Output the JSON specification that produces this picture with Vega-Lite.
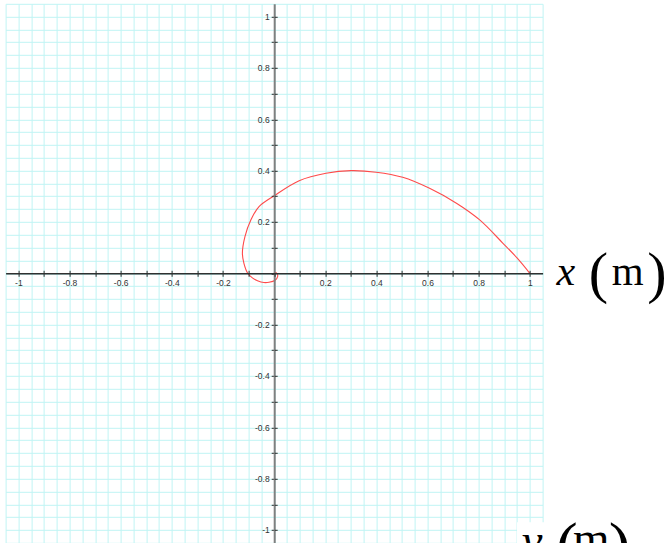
{
  "$schema": "https://vega.github.io/schema/vega-lite/v6.json",
  "width": 537,
  "height": 539,
  "autosize": {"type": "none"},
  "padding": {"left": 5.6, "top": 3.8, "right": 127.4, "bottom": 0.2},
  "background": "white",
  "config": {"view": {"stroke": null}},
  "data": {
    "values": [
      {"t": 1, "x": 1.0, "y": 0.0},
      {"t": 2, "x": 0.95, "y": 0.06},
      {"t": 3, "x": 0.895, "y": 0.117},
      {"t": 4, "x": 0.804, "y": 0.208},
      {"t": 5, "x": 0.713, "y": 0.273},
      {"t": 6, "x": 0.608, "y": 0.331},
      {"t": 7, "x": 0.503, "y": 0.374},
      {"t": 8, "x": 0.399, "y": 0.394},
      {"t": 9, "x": 0.301, "y": 0.4},
      {"t": 10, "x": 0.203, "y": 0.39},
      {"t": 11, "x": 0.098, "y": 0.361},
      {"t": 12, "x": 0.0, "y": 0.302},
      {"t": 13, "x": -0.059, "y": 0.26},
      {"t": 14, "x": -0.091, "y": 0.208},
      {"t": 15, "x": -0.114, "y": 0.143},
      {"t": 16, "x": -0.124, "y": 0.078},
      {"t": 17, "x": -0.118, "y": 0.039},
      {"t": 18, "x": -0.103, "y": 0.0},
      {"t": 19, "x": -0.085, "y": -0.018},
      {"t": 20, "x": -0.065, "y": -0.029},
      {"t": 21, "x": -0.04, "y": -0.036},
      {"t": 22, "x": -0.02, "y": -0.035},
      {"t": 23, "x": 0.004, "y": -0.027},
      {"t": 24, "x": 0.014, "y": -0.012},
      {"t": 25, "x": 0.012, "y": -0.002},
      {"t": 26, "x": 0.004, "y": 0.004},
      {"t": 27, "x": 0.0, "y": 0.0}
    ]
  },
  "resolve": {"axis": {"x": "independent", "y": "independent"}},
  "layer": [
    {
      "mark": {"type": "point", "opacity": 0},
      "encoding": {
        "x": {
          "field": "x", "type": "quantitative",
          "scale": {"domain": [-1.05, 1.05], "nice": false, "zero": false},
          "axis": {
            "orient": "top", "title": null, "labels": false, "ticks": false, "domain": false,
            "grid": true, "gridColor": "#c0f4f4", "gridWidth": 1, "zindex": 0,
            "values": [-1.05,-1,-0.95,-0.9,-0.85,-0.8,-0.75,-0.7,-0.65,-0.6,-0.55,-0.5,-0.45,-0.4,-0.35,-0.3,-0.25,-0.2,-0.15,-0.1,-0.05,0,0.05,0.1,0.15,0.2,0.25,0.3,0.35,0.4,0.45,0.5,0.55,0.6,0.65,0.7,0.75,0.8,0.85,0.9,0.95,1,1.05]
          }
        },
        "y": {
          "field": "y", "type": "quantitative",
          "scale": {"domain": [-1.05, 1.05], "nice": false, "zero": false},
          "axis": {
            "orient": "right", "title": null, "labels": false, "ticks": false, "domain": false,
            "grid": true, "gridColor": "#c0f4f4", "gridWidth": 1, "zindex": 0,
            "values": [-1.05,-1,-0.95,-0.9,-0.85,-0.8,-0.75,-0.7,-0.65,-0.6,-0.55,-0.5,-0.45,-0.4,-0.35,-0.3,-0.25,-0.2,-0.15,-0.1,-0.05,0,0.05,0.1,0.15,0.2,0.25,0.3,0.35,0.4,0.45,0.5,0.55,0.6,0.65,0.7,0.75,0.8,0.85,0.9,0.95,1,1.05]
          }
        }
      }
    },
    {
      "mark": {"type": "line", "color": "#ff4a4a", "strokeWidth": 1.1, "interpolate": "catmull-rom"},
      "encoding": {
        "x": {
          "field": "x", "type": "quantitative",
          "scale": {"domain": [-1.05, 1.05], "nice": false, "zero": false},
          "axis": {
            "orient": "bottom", "offset": -269.5, "title": null, "grid": false,
            "domainColor": "#303030", "domainWidth": 1.5,
            "tickColor": "#303030", "tickSize": 3, "tickWidth": 1,
            "labelFont": "Liberation Sans", "labelFontSize": 8.5, "labelColor": "#333333", "labelPadding": 2,
            "labelExpr": "datum.value != 0 && abs(round(datum.value * 10)) % 2 == 0 ? '' + datum.value : ''",
            "zindex": 2,
            "values": [-1,-0.9,-0.8,-0.7,-0.6,-0.5,-0.4,-0.3,-0.2,-0.1,0,0.1,0.2,0.3,0.4,0.5,0.6,0.7,0.8,0.9,1]
          }
        },
        "y": {
          "field": "y", "type": "quantitative",
          "scale": {"domain": [-1.05, 1.05], "nice": false, "zero": false},
          "axis": {
            "orient": "left", "offset": -268.6, "title": null, "grid": false,
            "domainColor": "#808080", "domainWidth": 2,
            "tickColor": "#303030", "tickSize": 3, "tickWidth": 1,
            "labelFont": "Liberation Sans", "labelFontSize": 8.5, "labelColor": "#333333", "labelPadding": 2,
            "labelExpr": "datum.value != 0 && abs(round(datum.value * 10)) % 2 == 0 ? '' + datum.value : ''",
            "zindex": 1,
            "values": [-1,-0.9,-0.8,-0.7,-0.6,-0.5,-0.4,-0.3,-0.2,-0.1,0,0.1,0.2,0.3,0.4,0.5,0.6,0.7,0.8,0.9,1]
          }
        },
        "order": {"field": "t", "type": "quantitative"}
      }
    },
    {
      "mark": {"type": "point", "opacity": 0},
      "encoding": {
        "x": {
          "field": "x", "type": "quantitative",
          "scale": {"domain": [-1.05, 1.05], "nice": false, "zero": false},
          "axis": {
            "orient": "top", "offset": -269.5, "title": null, "grid": false, "labels": false, "domain": false,
            "tickColor": "#303030", "tickSize": 3, "tickWidth": 1, "zindex": 2,
            "values": [-1,-0.9,-0.8,-0.7,-0.6,-0.5,-0.4,-0.3,-0.2,-0.1,0.1,0.2,0.3,0.4,0.5,0.6,0.7,0.8,0.9,1]
          }
        },
        "y": {
          "field": "y", "type": "quantitative",
          "scale": {"domain": [-1.05, 1.05], "nice": false, "zero": false},
          "axis": {
            "orient": "right", "offset": -268.4, "title": null, "grid": false, "labels": false, "domain": false,
            "tickColor": "#303030", "tickSize": 3, "tickWidth": 1, "zindex": 1,
            "values": [-1,-0.9,-0.8,-0.7,-0.6,-0.5,-0.4,-0.3,-0.2,-0.1,0.1,0.2,0.3,0.4,0.5,0.6,0.7,0.8,0.9,1]
          }
        }
      }
    },
    {
      "data": {"values": [{"box": "ylabel"}]},
      "mark": {"type": "rect", "color": "white"},
      "encoding": {
        "x": {"datum": 0.95, "type": "quantitative", "axis": null},
        "x2": {"datum": 1.07},
        "y": {"datum": -0.97, "type": "quantitative", "axis": null},
        "y2": {"datum": -1.07}
      }
    },
    {
      "data": {"values": [{"s": "x"}]},
      "mark": {"type": "text", "font": "Liberation Serif", "fontStyle": "italic", "fontSize": 42, "align": "left", "baseline": "alphabetic", "dx": 14, "dy": 12, "color": "black"},
      "encoding": {
        "text": {"field": "s"},
        "x": {"datum": 1.05, "type": "quantitative", "axis": null},
        "y": {"datum": 0, "type": "quantitative", "axis": null}
      }
    },
    {
      "data": {"values": [{"s": "("}]},
      "mark": {"type": "text", "font": "Liberation Serif", "fontSize": 58, "align": "center", "baseline": "alphabetic", "dx": 55.7, "dy": 18.7, "color": "black"},
      "encoding": {
        "text": {"field": "s"},
        "x": {"datum": 1.05, "type": "quantitative", "axis": null},
        "y": {"datum": 0, "type": "quantitative", "axis": null}
      }
    },
    {
      "data": {"values": [{"s": "m"}]},
      "mark": {"type": "text", "font": "Liberation Serif", "fontSize": 41, "align": "center", "baseline": "alphabetic", "dx": 85, "dy": 11.7, "color": "black"},
      "encoding": {
        "text": {"field": "s"},
        "x": {"datum": 1.05, "type": "quantitative", "axis": null},
        "y": {"datum": 0, "type": "quantitative", "axis": null}
      }
    },
    {
      "data": {"values": [{"s": ")"}]},
      "mark": {"type": "text", "font": "Liberation Serif", "fontSize": 58, "align": "center", "baseline": "alphabetic", "dx": 114.2, "dy": 18.7, "color": "black"},
      "encoding": {
        "text": {"field": "s"},
        "x": {"datum": 1.05, "type": "quantitative", "axis": null},
        "y": {"datum": 0, "type": "quantitative", "axis": null}
      }
    },
    {
      "data": {"values": [{"s": "y"}]},
      "mark": {"type": "text", "font": "Liberation Serif", "fontStyle": "italic", "fontSize": 47, "align": "left", "baseline": "alphabetic", "dx": -21, "dy": 13, "color": "black"},
      "encoding": {
        "text": {"field": "s"},
        "x": {"datum": 1.05, "type": "quantitative", "axis": null},
        "y": {"datum": -1.05, "type": "quantitative", "axis": null}
      }
    },
    {
      "data": {"values": [{"s": "("}]},
      "mark": {"type": "text", "font": "Liberation Serif", "fontSize": 66, "align": "center", "baseline": "alphabetic", "dx": 24.2, "dy": 24.8, "color": "black"},
      "encoding": {
        "text": {"field": "s"},
        "x": {"datum": 1.05, "type": "quantitative", "axis": null},
        "y": {"datum": -1.05, "type": "quantitative", "axis": null}
      }
    },
    {
      "data": {"values": [{"s": "m"}]},
      "mark": {"type": "text", "font": "Liberation Serif", "fontSize": 47, "align": "center", "baseline": "alphabetic", "dx": 48.7, "dy": 10.8, "color": "black"},
      "encoding": {
        "text": {"field": "s"},
        "x": {"datum": 1.05, "type": "quantitative", "axis": null},
        "y": {"datum": -1.05, "type": "quantitative", "axis": null}
      }
    },
    {
      "data": {"values": [{"s": ")"}]},
      "mark": {"type": "text", "font": "Liberation Serif", "fontSize": 66, "align": "center", "baseline": "alphabetic", "dx": 77.2, "dy": 24.8, "color": "black"},
      "encoding": {
        "text": {"field": "s"},
        "x": {"datum": 1.05, "type": "quantitative", "axis": null},
        "y": {"datum": -1.05, "type": "quantitative", "axis": null}
      }
    }
  ]
}
